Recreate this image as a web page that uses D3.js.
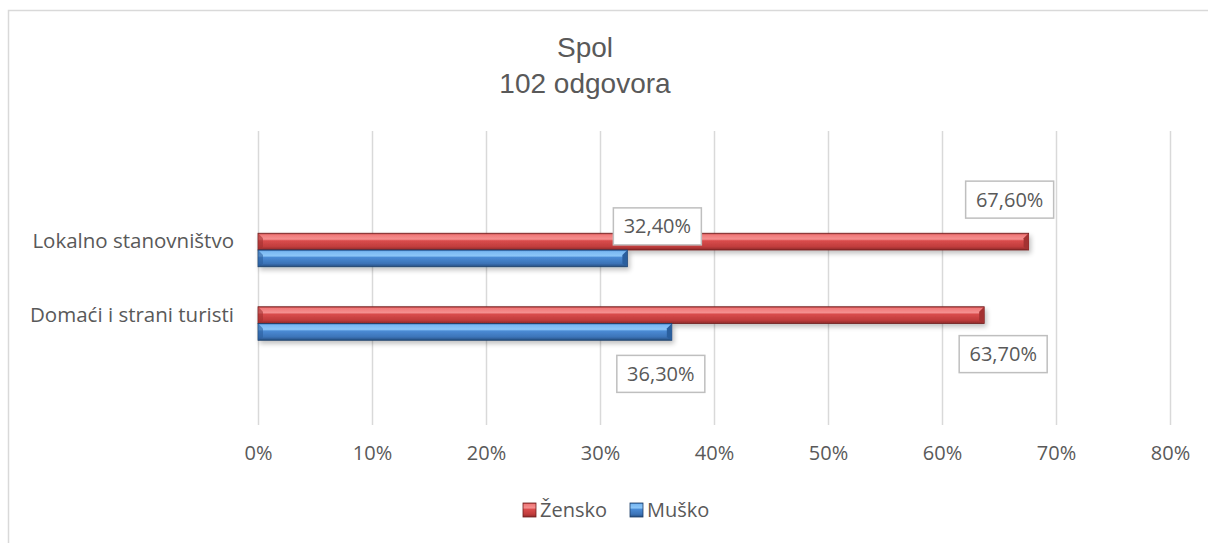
<!DOCTYPE html>
<html>
<head>
<meta charset="utf-8">
<script src="https://cdn.jsdelivr.net/npm/d3@7"></script>
<style>
  body { margin: 0; background: #fff; }
  svg { display: block; }
  .tick-label, .cat-label, .legend-text, .data-label { font-family: "Open Sans", sans-serif; fill: #595959; }
  .title { font-family: "Liberation Sans", Arial, sans-serif; fill: #595959; }
</style>
</head>
<body>
<svg id="chart"></svg>
<script>
// data
var categories = ["Lokalno stanovništvo", "Domaći i strani turisti"];
var seriesNames = ["Žensko", "Muško"];
var zensko = [0.676, 0.637];
var musko = [0.324, 0.363];
var xTicks = [0, 0.1, 0.2, 0.3, 0.4, 0.5, 0.6, 0.7, 0.8];
var titleLines = ["Spol", "102 odgovora"];

// label boxes were dragged by hand in the original, offsets from bar end / bar middle
var labelOffsets = [
  [[-19, -42], [30, -32]],
  [[19, 39], [-11, 42]]
];

var width = 1208, height = 543;
var svg = d3.select('#chart').attr('width', width).attr('height', height);

var locale = d3.formatLocale({decimal: ",", thousands: ".", grouping: [3], currency: ["", " kn"]});
var tickFmt = locale.format(".0%");
var labelFmt = locale.format(".2%");

var defs = svg.append('defs');
function barGradient(id, stops) {
  var g = defs.append('linearGradient').attr('id', id).attr('x1', 0).attr('y1', 0).attr('x2', 0).attr('y2', 1);
  stops.forEach(function(s){
    g.append('stop').attr('offset', s[0]).attr('stop-color', s[1]);
  });
}
barGradient('redGrad', [[0, '#b83a3a'], [0.1, '#f07a7a'], [0.35, '#f59090'], [0.45, '#d94c4c'], [0.8, '#c03c3c'], [1, '#8e2a2a']]);
barGradient('blueGrad', [[0, '#3a78c0'], [0.1, '#7ab8f2'], [0.35, '#8cc6f8'], [0.45, '#4a8ad4'], [0.8, '#3c74b8'], [1, '#264f82']]);

var shadow = defs.append('filter').attr('id', 'shadow').attr('x', '-5%').attr('y', '-50%').attr('width', '110%').attr('height', '200%');
shadow.append('feGaussianBlur').attr('in', 'SourceAlpha').attr('stdDeviation', 2.5);
shadow.append('feOffset').attr('dx', 2).attr('dy', 3).attr('result', 'b');
shadow.append('feComponentTransfer').append('feFuncA').attr('type', 'linear').attr('slope', 0.25);
var merge = shadow.append('feMerge');
merge.append('feMergeNode');
merge.append('feMergeNode').attr('in', 'SourceGraphic');

// chart frame
svg.append('rect')
  .attr('x', 8.5).attr('y', 10.5).attr('width', 1300).attr('height', 700)
  .attr('fill', '#fff').attr('stroke', '#d9d9d9').attr('stroke-width', 1.5);

// title
svg.selectAll('.title').data(titleLines).enter().append('text')
  .attr('class', 'title')
  .attr('x', 585)
  .attr('y', function(d, i){ return 57 + i * 36; })
  .attr('text-anchor', 'middle')
  .attr('font-size', 28)
  .text(function(d){ return d; });

var x_scale = d3.scaleLinear().domain([0, 0.8]).range([258, 1170]);
var y_scale = d3.scaleBand().domain(categories).range([213.25, 360.25]);
var inner = d3.scaleBand().domain(seriesNames).range([0, 33.5]);
var gridTop = 131, gridBottom = 425;

// gridlines
svg.append('g').attr('class', 'grid-lines-x')
  .selectAll('line').data(xTicks).enter().append('line')
  .attr('x1', function(d){ return Math.round(x_scale(d)) + 0.5; })
  .attr('x2', function(d){ return Math.round(x_scale(d)) + 0.5; })
  .attr('y1', gridTop).attr('y2', gridBottom)
  .attr('stroke', '#d9d9d9').attr('stroke-width', 1.5);

// x axis labels
var x_axis = d3.axisBottom(x_scale).tickValues(xTicks).tickFormat(tickFmt).tickSize(0).tickPadding(0);
var xg = svg.append('g').attr('class', 'x-axis').attr('transform', 'translate(0,446)').call(x_axis);
xg.select('.domain').remove();
xg.selectAll('text').attr('class', 'tick-label').attr('font-size', 20).attr('fill', '#595959')
  .style('font-family', '"Open Sans", sans-serif');

// category labels
svg.selectAll('.cat-label').data(categories).enter().append('text')
  .attr('class', 'cat-label')
  .attr('x', 234)
  .attr('y', function(d){ return y_scale(d) + y_scale.bandwidth() / 2 - 2; })
  .attr('text-anchor', 'end')
  .attr('font-size', 20.5)
  .text(function(d){ return d; });

// bars
var rows = [];
categories.forEach(function(c, i){
  rows.push({cat: c, s: seriesNames[0], v: zensko[i], grad: 'redGrad', edge: '#6e1f1f', bevel: '#a33131', ci: i, si: 0});
  rows.push({cat: c, s: seriesNames[1], v: musko[i], grad: 'blueGrad', edge: '#1d3d66', bevel: '#2c5f9e', ci: i, si: 1});
});

var barH = inner.bandwidth();
var barG = svg.selectAll('.bar').data(rows).enter().append('g').attr('class', 'bar')
  .attr('filter', 'url(#shadow)');

barG.append('rect')
  .attr('x', x_scale(0))
  .attr('y', function(d){ return y_scale(d.cat) + 20 + inner(d.s); })
  .attr('width', function(d){ return x_scale(d.v) - x_scale(0); })
  .attr('height', barH)
  .attr('fill', function(d){ return 'url(#' + d.grad + ')'; })
  .attr('stroke', function(d){ return d.edge; })
  .attr('stroke-width', 0.8);

// bevel at the end and start of each bar
barG.append('polygon')
  .attr('points', function(d){
    var x1 = x_scale(d.v), y0 = y_scale(d.cat) + 20 + inner(d.s);
    return [[x1 - 5, y0 + 5], [x1, y0], [x1, y0 + barH], [x1 - 5, y0 + barH - 3]].join(' ');
  })
  .attr('fill', function(d){ return d.bevel; });
barG.append('polygon')
  .attr('points', function(d){
    var x0 = x_scale(0), y0 = y_scale(d.cat) + 20 + inner(d.s);
    return [[x0, y0], [x0 + 5, y0 + 5], [x0 + 5, y0 + barH - 3], [x0, y0 + barH]].join(' ');
  })
  .attr('fill', function(d){ return d.bevel; })
  .attr('opacity', 0.6);

// data labels
var labG = svg.selectAll('.data-label-g').data(rows).enter().append('g').attr('class', 'data-label-g')
  .attr('transform', function(d){
    var off = labelOffsets[d.ci][d.si];
    var cx = x_scale(d.v) + off[0];
    var cy = y_scale(d.cat) + 20 + inner(d.s) + barH / 2 + off[1];
    return 'translate(' + cx + ',' + cy + ')';
  });
labG.append('rect')
  .attr('x', -44).attr('y', -18.5).attr('width', 88).attr('height', 37)
  .attr('fill', '#fff').attr('stroke', '#bfbfbf').attr('stroke-width', 1.5);
labG.append('text')
  .attr('class', 'data-label')
  .attr('text-anchor', 'middle')
  .attr('dy', '0.35em')
  .attr('font-size', 20)
  .text(function(d){ return labelFmt(d.v); });

// legend
var legendX = [523, 630];
var leg = svg.selectAll('.legend').data(seriesNames).enter().append('g').attr('class', 'legend')
  .attr('transform', function(d, i){ return 'translate(' + legendX[i] + ',503)'; });
leg.append('rect')
  .attr('width', 13).attr('height', 14)
  .attr('fill', function(d, i){ return i == 0 ? 'url(#redGrad)' : 'url(#blueGrad)'; })
  .attr('stroke', function(d, i){ return i == 0 ? '#6e1f1f' : '#1d3d66'; })
  .attr('stroke-width', 0.8);
leg.append('text')
  .attr('class', 'legend-text')
  .attr('x', 17).attr('y', 14)
  .attr('font-size', 20)
  .text(function(d){ return d; });
</script>
</body>
</html>
